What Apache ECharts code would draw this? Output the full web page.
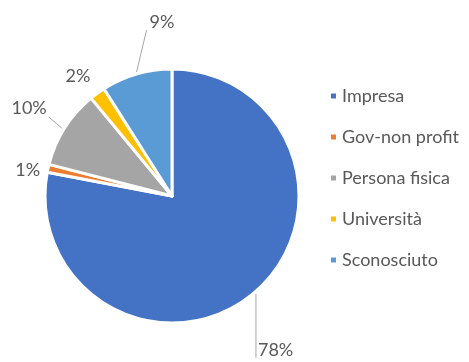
<!DOCTYPE html>
<html>
<head>
<meta charset="utf-8">
<script src="https://cdn.jsdelivr.net/npm/echarts@6/dist/echarts.min.js"></script>
<style>
  html, body { margin: 0; padding: 0; background: #fff; }
  #box { width: 469px; height: 362px; }
</style>
</head>
<body>
<div id="box"></div>
<script>
// categorie e valori (%)
var categories = ['Impresa', 'Gov-non profit', 'Persona fisica', 'Università', 'Sconosciuto'];
var values = [78, 1, 10, 2, 9];
var colors = ['#4472C4', '#ED7D31', '#A5A5A5', '#FFC000', '#5B9BD5'];

var myChart = echarts.init(document.getElementById('box'));

var data = categories.map(function (name, i) {
    var d = { name: name, value: values[i] };
    // niente linea guida per le fette piccole (come in Excel)
    if (i === 1 || i === 3) {
        d.labelLine = { show: false };
    }
    return d;
});

// spostamento etichette rispetto al bordo della fetta, stile Excel
// [dx, dy, allineamento, linea]
var labelOffsets = [
    [5, 56, 'left', [[3, 0], [3, 64]]],
    [-8, 2, 'right', null],
    [-18, -20, 'right', [[-2, 1], [-16, -11]]],
    [-7, -17, 'right', null],
    [13, -52, 'left', [[0, -2], [10, -44]]]
];

var option = {
    color: colors,
    textStyle: { fontFamily: 'Lato' },
    legend: {
        orient: 'vertical',
        left: 324,
        top: 82,
        icon: 'rect',
        itemWidth: 7,
        itemHeight: 7,
        itemGap: 23,
        textStyle: { fontSize: 18, color: '#595959', fontFamily: 'Lato' },
        data: categories
    },
    series: [{
        type: 'pie',
        center: [172, 196],
        radius: 127,
        startAngle: 90,
        clockwise: true,
        avoidLabelOverlap: false,
        itemStyle: { borderColor: '#fff', borderWidth: 3 },
        label: {
            show: true,
            formatter: '{c}%',
            fontSize: 18,
            color: '#595959',
            fontFamily: 'Lato'
        },
        labelLine: {
            show: true,
            length: 10,
            length2: 0,
            lineStyle: { color: '#A6A6A6', width: 1 }
        },
        labelLayout: function (params) {
            var e = params.labelLinePoints ? params.labelLinePoints[0] : null;
            if (!e) return {};
            var o = labelOffsets[params.dataIndex];
            var res = {
                x: e[0] + o[0],
                y: e[1] + o[1],
                align: o[2],
                verticalAlign: 'middle'
            };
            if (o[3]) {
                res.labelLinePoints = o[3].map(function (p) {
                    return [e[0] + p[0], e[1] + p[1]];
                });
            }
            return res;
        },
        emphasis: { disabled: true },
        data: data
    }]
};

myChart.setOption(option);
</script>
</body>
</html>
